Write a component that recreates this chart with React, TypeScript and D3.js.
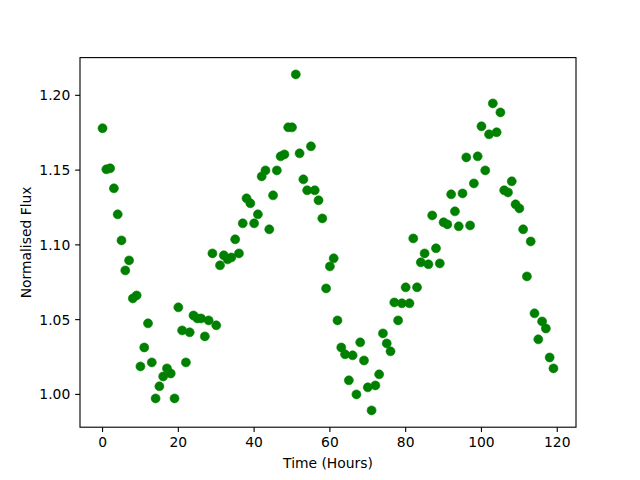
import React from "react";
import * as d3 from "d3";

const hours: number[] = Array.from({ length: 120 }, (_, i) => i);
const flux: number[] = [
  1.178, 1.1505, 1.1512, 1.1378, 1.1204, 1.103, 1.0829, 1.0896, 1.0642, 1.0662,
  1.0187, 1.0314, 1.0475, 1.0214, 0.9973, 1.0054, 1.012, 1.0174, 1.014, 0.9973,
  1.0582, 1.0428, 1.0214, 1.0415, 1.0528, 1.0508, 1.0508, 1.0388, 1.0495, 1.0943,
  1.0462, 1.0863, 1.093, 1.0903, 1.0916, 1.1037, 1.0943, 1.1144, 1.1311, 1.1278,
  1.1144, 1.1204, 1.1458, 1.1498, 1.1104, 1.1331, 1.1498, 1.1592, 1.1605, 1.1786,
  1.1786, 1.214, 1.1612, 1.1438, 1.1365, 1.1659, 1.1365, 1.1298, 1.1177, 1.0709,
  1.0856, 1.091, 1.0495, 1.0314, 1.0268, 1.0094, 1.0261, 1.0, 1.0348, 1.0227,
  1.0047, 0.9893, 1.006, 1.0134, 1.0408, 1.0341, 1.0288, 1.0615, 1.0495, 1.0609,
  1.0716, 1.0609, 1.1043, 1.0716, 1.0883, 1.0943, 1.087, 1.1197, 1.0977, 1.0876,
  1.1151, 1.1137, 1.1338, 1.1224, 1.1124, 1.1344, 1.1585, 1.113, 1.1411, 1.1592,
  1.1793, 1.1498, 1.1739, 1.1946, 1.1753, 1.1886, 1.1365, 1.1351, 1.1425, 1.1271,
  1.1244, 1.1104, 1.0789, 1.1023, 1.0542, 1.0368, 1.0488, 1.0441, 1.0247, 1.0174,
];
const xTicks: number[] = [0, 20, 40, 60, 80, 100, 120];
const yTicks: number[] = [1.0, 1.05, 1.1, 1.15, 1.2];
const xLabel = "Time (Hours)";
const yLabel = "Normalised Flux";

const W = 640;
const H = 480;
const left = 80;
const right = 576;
const top = 57.6;
const bottom = 427.2;
const font = "'DejaVu Sans', sans-serif";
const fs = 13.89;
const tickLen = 4.86;

export default function App() {
  const xMin = d3.min(hours)!;
  const xMax = d3.max(hours)!;
  const yMin = d3.min(flux)!;
  const yMax = d3.max(flux)!;
  const xm = (xMax - xMin) * 0.05;
  const ym = (yMax - yMin) * 0.05;
  const x = d3.scaleLinear().domain([xMin - xm, xMax + xm]).range([left, right]);
  const y = d3.scaleLinear().domain([yMin - ym, yMax + ym]).range([bottom, top]);
  const fmt = d3.format(".2f");

  return (
    <svg
      width={W}
      height={H}
      style={{ position: "absolute", left: 0, top: 0, background: "#fff" }}
      fontFamily={font}
    >
      <rect x={0} y={0} width={W} height={H} fill="#fff" />
      <defs>
        <clipPath id="plotclip">
          <rect x={left} y={top} width={right - left} height={bottom - top} />
        </clipPath>
      </defs>
      <g clipPath="url(#plotclip)">
        {hours.map((h, i) => (
          <circle key={i} cx={x(h)} cy={y(flux[i])} r={4.5} fill="#008000" stroke="#008000" strokeWidth={0.6} />
        ))}
      </g>
      <rect x={left} y={top} width={right - left} height={bottom - top} fill="none" stroke="#000" strokeWidth={1.11} />
      {xTicks.map((t) => (
        <g key={"x" + t}>
          <line x1={x(t)} x2={x(t)} y1={bottom} y2={bottom + tickLen} stroke="#000" strokeWidth={1.11} />
          <text x={x(t)} y={bottom + tickLen + 4.86 + 10.3} textAnchor="middle" fontSize={fs} fill="#000">
            {t}
          </text>
        </g>
      ))}
      {yTicks.map((t) => (
        <g key={"y" + t}>
          <line x1={left - tickLen} x2={left} y1={y(t)} y2={y(t)} stroke="#000" strokeWidth={1.11} />
          <text x={left - tickLen - 4.86} y={y(t) + 5} textAnchor="end" fontSize={fs} fill="#000">
            {fmt(t)}
          </text>
        </g>
      ))}
      <text x={(left + right) / 2} y={468} textAnchor="middle" fontSize={fs} fill="#000">
        {xLabel}
      </text>
      <text
        transform={`translate(30.5, ${(top + bottom) / 2}) rotate(-90)`}
        textAnchor="middle"
        fontSize={fs}
        fill="#000"
      >
        {yLabel}
      </text>
    </svg>
  );
}
